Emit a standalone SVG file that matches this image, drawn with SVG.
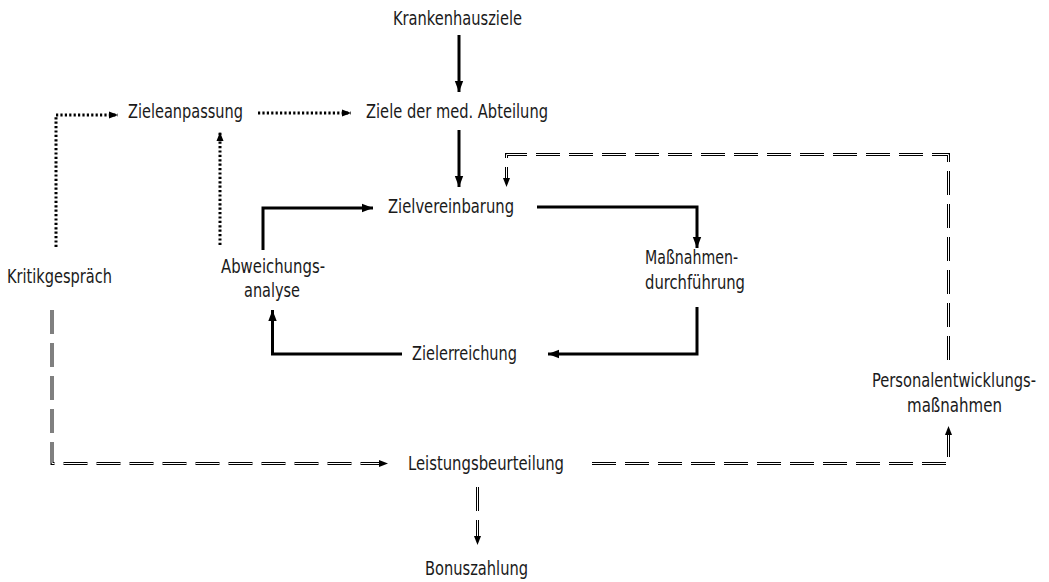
<svg xmlns="http://www.w3.org/2000/svg" width="1049" height="582" viewBox="0 0 1049 582">
  <style>
    text { font-family: "DejaVu Sans Condensed", "Liberation Sans Narrow", "Liberation Sans", sans-serif; font-size: 19px; fill: #1a1a1a; text-anchor: middle; }
    .solid { fill: none; stroke: #000; stroke-width: 3; }
    .dotted { fill: none; stroke: #000; stroke-width: 3; stroke-dasharray: 2.2 2.2; }
    .dbl-outer { fill: none; stroke: #000; stroke-width: 3; stroke-dasharray: 24 9; }
    .dbl-inner { fill: none; stroke: #fff; stroke-width: 1; stroke-dasharray: 24 9; }
  </style>
  <defs>
    <marker id="arrow" markerUnits="userSpaceOnUse" markerWidth="12" markerHeight="10" refX="11" refY="5" orient="auto">
      <path d="M0 0.8 L11 5 L0 9.2 Z" fill="#000"/>
    </marker>
    <marker id="arrow-small" markerUnits="userSpaceOnUse" markerWidth="10" markerHeight="8" refX="9" refY="4" orient="auto">
      <path d="M0 0.5 L9 4 L0 7.5 Z" fill="#000"/>
    </marker>
  </defs>

  <!-- connectors -->
  <g id="connectors">
    <!-- solid flow -->
    <path class="solid" d="M459 35 V92" marker-end="url(#arrow)"/>
    <path class="solid" d="M459 130 V187" marker-end="url(#arrow)"/>
    <path class="solid" d="M263 250 V208 H373" marker-end="url(#arrow)"/>
    <path class="solid" d="M537 207 H697 V248" marker-end="url(#arrow)"/>
    <path class="solid" d="M697 307 V354 H548" marker-end="url(#arrow)"/>
    <path class="solid" d="M402 354 H272.5 V310" marker-end="url(#arrow)"/>

    <!-- dotted feedback -->
    <path class="dotted" d="M56 247 V115 H118" marker-end="url(#arrow-small)"/>
    <path class="dotted" d="M220 245 V132" marker-end="url(#arrow-small)"/>
    <path class="dotted" d="M258 113 H351" marker-end="url(#arrow-small)"/>

    <!-- double dashed -->
    <path class="dbl-outer" d="M948.5 360 V154.5 H506.5 V180"/>
    <path class="dbl-inner" d="M948.5 360 V154.5 H506.5 V187" marker-end="url(#arrow-small)"/>

    <path class="dbl-outer" d="M592 463.5 H948.5 V432"/>
    <path class="dbl-inner" d="M592 463.5 H948.5 V426" marker-end="url(#arrow-small)"/>

    <path class="dbl-outer" d="M52 310 V463.5 H380"/>
    <path class="dbl-inner" d="M52 310 V463.5 H388" marker-end="url(#arrow-small)"/>

    <path class="dbl-outer" d="M477.5 487 V538"/>
    <path class="dbl-inner" d="M477.5 487 V545" marker-end="url(#arrow-small)"/>
  </g>

  <!-- nodes -->
  <g id="krankenhausziele"><text x="457.5" y="25" textLength="129" lengthAdjust="spacingAndGlyphs">Krankenhausziele</text></g>
  <g id="ziele-abteilung"><text x="457" y="118" textLength="182" lengthAdjust="spacingAndGlyphs">Ziele der med. Abteilung</text></g>
  <g id="zieleanpassung"><text x="185.5" y="118" textLength="115" lengthAdjust="spacingAndGlyphs">Zieleanpassung</text></g>
  <g id="zielvereinbarung"><text x="451" y="213" textLength="126" lengthAdjust="spacingAndGlyphs">Zielvereinbarung</text></g>
  <g id="massnahmen">
    <text x="691.5" y="264" textLength="93" lengthAdjust="spacingAndGlyphs">Maßnahmen-</text>
    <text x="695" y="289" textLength="100" lengthAdjust="spacingAndGlyphs">durchführung</text>
  </g>
  <g id="zielerreichung"><text x="464.5" y="360" textLength="105" lengthAdjust="spacingAndGlyphs">Zielerreichung</text></g>
  <g id="abweichungsanalyse">
    <text x="273" y="273" textLength="104" lengthAdjust="spacingAndGlyphs">Abweichungs-</text>
    <text x="272" y="297" textLength="56" lengthAdjust="spacingAndGlyphs">analyse</text>
  </g>
  <g id="kritikgespraech"><text x="59.5" y="283" textLength="105" lengthAdjust="spacingAndGlyphs">Kritikgespräch</text></g>
  <g id="personalentwicklung">
    <text x="954" y="387" textLength="164" lengthAdjust="spacingAndGlyphs">Personalentwicklungs-</text>
    <text x="954.5" y="412" textLength="95" lengthAdjust="spacingAndGlyphs">maßnahmen</text>
  </g>
  <g id="leistungsbeurteilung"><text x="486" y="470" textLength="156" lengthAdjust="spacingAndGlyphs">Leistungsbeurteilung</text></g>
  <g id="bonuszahlung"><text x="476.5" y="575" textLength="103" lengthAdjust="spacingAndGlyphs">Bonuszahlung</text></g>
</svg>
